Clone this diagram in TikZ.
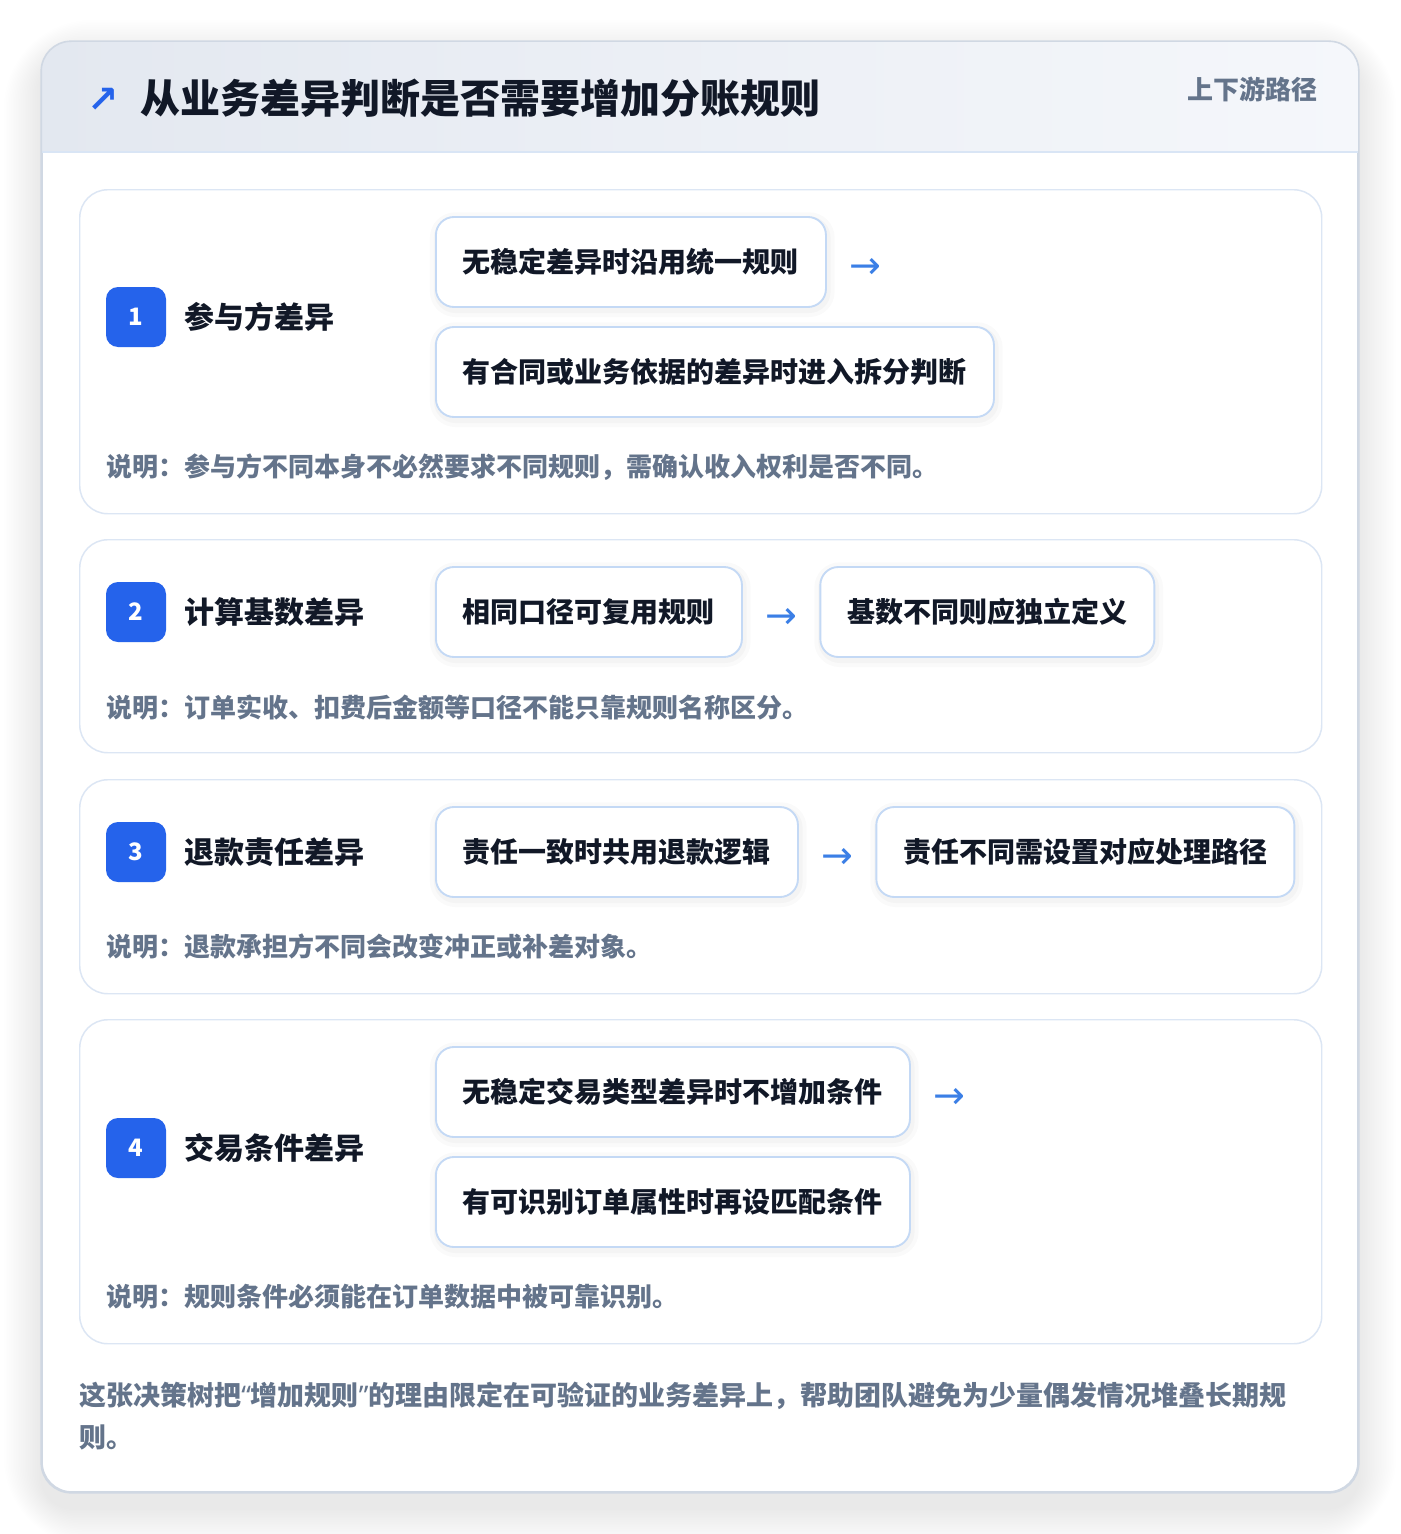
\documentclass[tikz,border=0pt]{standalone}
\usepackage{fontspec}
\setmainfont{Noto Sans CJK SC}
\newfontfamily\symfont{DejaVu Sans}
\newfontfamily\latinfont{Noto Sans}
\usetikzlibrary{positioning}
\definecolor{ink}{HTML}{111827}
\definecolor{slate}{HTML}{64748B}
\definecolor{royal}{HTML}{2563EB}
\definecolor{arrowBlue}{HTML}{3B7FE6}
\definecolor{frameLine}{HTML}{D0D8E3}
\definecolor{cardLine}{HTML}{DCE6F4}
\definecolor{optLine}{HTML}{C4D9F5}
\definecolor{headLeft}{HTML}{E3E8F0}
\definecolor{headRight}{HTML}{F5F7FB}
\definecolor{headLine}{HTML}{D9E5F5}
\tikzset{frameStyle/.style={rectangle, rounded corners=22.5pt, draw=frameLine, fill=white, line width=1.2pt, inner sep=0pt, minimum width=987pt, minimum height=1087.5pt}}
\tikzset{haloStyle/.style={rectangle, fill=black, fill opacity=0.0045, inner sep=0pt}}
\tikzset{cardStyle/.style={rectangle, rounded corners=21pt, draw=cardLine, fill=white, line width=1.1pt, inner sep=0pt, anchor=north west, minimum width=931.5pt}}
\tikzset{badgeStyle/.style={rectangle, rounded corners=9pt, fill=royal, text=white, minimum size=45pt, inner sep=0pt, font=\fontsize{18}{20}\selectfont\bfseries}}
\tikzset{labelStyle/.style={anchor=west, inner sep=0pt, text=ink, font=\fontsize{22.5}{26}\selectfont\bfseries}}
\tikzset{optStyle/.style={rectangle, rounded corners=13.5pt, draw=optLine, fill=white, line width=1.4pt, inner xsep=20.25pt, inner ysep=0pt, minimum height=67.5pt, anchor=west, text=ink, font=\fontsize{21}{25}\selectfont\bfseries,
  preaction={draw=black, draw opacity=0.018, line width=11pt, transform canvas={xshift=1pt, yshift=-2pt}},
  preaction={draw=black, draw opacity=0.025, line width=5pt, transform canvas={xshift=1pt, yshift=-2pt}}}}
\tikzset{arrowStyle/.style={inner sep=0pt, minimum width=24pt, text=arrowBlue, font=\symfont\fontsize{28.5}{32}\selectfont, yshift=-5pt}}
\tikzset{noteStyle/.style={anchor=west, inner sep=0pt, text=slate, font=\fontsize{19.5}{23}\selectfont\bfseries}}

\begin{document}
\begin{tikzpicture}[x=0.75pt, y=-0.75pt, node distance=16.5pt]
  \useasboundingbox [fill=white] (0,0) rectangle (1400,1534);

  % frame and header
  \coordinate (frameCenter) at (700,767);
  \foreach \s in {1,...,22} {
    \node [haloStyle, rounded corners=22.5pt+2pt*\s, minimum width=987pt+2.6pt*\s, minimum height=1087.5pt+2.6pt*\s] at ([yshift=-12pt]frameCenter) {};
  }
  \node [frameStyle] (frame) at (frameCenter) {};
  \begin{scope}
    \clip [rounded corners=22.5pt] (frame.north west) rectangle (frame.south east);
    \fill [left color=headLeft, right color=headRight] (frame.north west) rectangle (frame.east |- 0,152);
  \end{scope}
  \draw [headLine, line width=1.2pt] (frame.west |- 0,152) -- (frame.east |- 0,152);
  \draw [frameLine, line width=1.2pt, rounded corners=22.5pt] (frame.north west) rectangle (frame.south east);
  \node [inner sep=0pt, text=royal, font=\symfont\fontsize{28}{30}\selectfont\bfseries] (icon) at (103,100) {↗};
  \node [anchor=west, inner sep=0pt, text=ink, font=\fontsize{30}{34}\selectfont\bfseries] (title) at (140,98) {从业务差异判断是否需要增加分账规则};
  \node [anchor=east, inner sep=0pt, text=slate, font=\fontsize{19.5}{23}\selectfont\bfseries] (path) at (1318,89) {上下游路径};

  % cards
  \node [cardStyle, minimum height=243pt] (card1) at (79,189) {};
  \node [cardStyle, minimum height=159.75pt] (card2) at (79,539) {};
  \node [cardStyle, minimum height=160.5pt] (card3) at (79,779) {};
  \node [cardStyle, minimum height=243pt] (card4) at (79,1019) {};

  % card 1
  \node [badgeStyle] (badge1) at (136,317) {1};
  \node [labelStyle] (label1) at (184,317) {参与方差异};
  \node [optStyle] (opt1a) at (435,262) {无稳定差异时沿用统一规则};
  \node [arrowStyle, right=of opt1a] (arr1) {→};
  \node [optStyle] (opt1b) at (435,372) {有合同或业务依据的差异时进入拆分判断};
  \node [noteStyle] (note1) at (106,467) {说明：参与方不同本身不必然要求不同规则，需确认收入权利是否不同。};

  % card 2
  \node [badgeStyle] (badge2) at (136,612) {2};
  \node [labelStyle] (label2) at (184,612) {计算基数差异};
  \node [optStyle] (opt2a) at (435,612) {相同口径可复用规则};
  \node [arrowStyle, right=of opt2a] (arr2) {→};
  \node [optStyle, right=of arr2, yshift=5pt] (opt2b) {基数不同则应独立定义};
  \node [noteStyle] (note2) at (106,708) {说明：订单实收、扣费后金额等口径不能只靠规则名称区分。};

  % card 3
  \node [badgeStyle] (badge3) at (136,852) {3};
  \node [labelStyle] (label3) at (184,852) {退款责任差异};
  \node [optStyle] (opt3a) at (435,852) {责任一致时共用退款逻辑};
  \node [arrowStyle, right=of opt3a] (arr3) {→};
  \node [optStyle, right=of arr3, yshift=5pt] (opt3b) {责任不同需设置对应处理路径};
  \node [noteStyle] (note3) at (106,947) {说明：退款承担方不同会改变冲正或补差对象。};

  % card 4
  \node [badgeStyle] (badge4) at (136,1148) {4};
  \node [labelStyle] (label4) at (184,1148) {交易条件差异};
  \node [optStyle] (opt4a) at (435,1092) {无稳定交易类型差异时不增加条件};
  \node [arrowStyle, right=of opt4a] (arr4) {→};
  \node [optStyle] (opt4b) at (435,1202) {有可识别订单属性时再设匹配条件};
  \node [noteStyle] (note4) at (106,1297) {说明：规则条件必须能在订单数据中被可靠识别。};

  % footer
  \node [anchor=west, align=left, inner sep=0pt, text=slate, font=\fontsize{20.25}{31.5}\selectfont\bfseries] (summary) at (79,1416) {这张决策树把{\latinfont\bfseries “}增加规则{\latinfont\bfseries ”}的理由限定在可验证的业务差异上，帮助团队避免为少量偶发情况堆叠长期规\\则。};
\end{tikzpicture}
\end{document}
